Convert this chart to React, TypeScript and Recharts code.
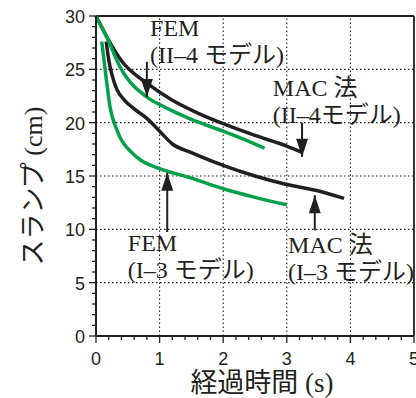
import React from 'react';
import { LineChart, Line, XAxis, YAxis, ReferenceLine, ReferenceDot, Label } from 'recharts';

// MAC 法 (II-4 モデル)
const macII4X = [0, 0.22, 0.4, 0.8, 1.2, 1.6, 2.0, 2.5, 3.0, 3.24];
const macII4Y = [30, 27.5, 25.8, 23.7, 22.1, 20.9, 19.9, 18.8, 17.8, 17.2];
// FEM (II-4 モデル)
const femII4X = [0, 0.17, 0.38, 0.8, 1.0, 1.2, 1.5, 2.0, 2.3, 2.65];
const femII4Y = [30, 28.0, 25.2, 22.4, 21.7, 21.1, 20.3, 19.2, 18.5, 17.6];
// MAC 法 (I-3 モデル)
const macI3X = [0.16, 0.2, 0.25, 0.33, 0.45, 0.6, 0.8, 1.0, 1.2, 1.5, 2.0, 2.5, 3.0, 3.5, 3.9];
const macI3Y = [27.6, 25.9, 24.5, 23.1, 22.1, 21.3, 20.4, 19.2, 18.0, 17.2, 16.0, 15.0, 14.2, 13.6, 12.9];
// FEM (I-3 モデル)
const femI3X = [0.09, 0.17, 0.22, 0.33, 0.58, 0.7, 1.0, 1.5, 2.0, 2.5, 3.0];
const femI3Y = [27.6, 23.7, 21.5, 19.3, 17.1, 16.5, 15.7, 14.8, 13.8, 13.0, 12.3];

const xTicks = [0, 0.2, 0.4, 0.6, 0.8, 1, 1.2, 1.4, 1.6, 1.8, 2, 2.2, 2.4, 2.6, 2.8, 3, 3.2, 3.4, 3.6, 3.8, 4, 4.2, 4.4, 4.6, 4.8, 5];
const yTicks = [0, 1, 2, 3, 4, 5, 6, 7, 8, 9, 10, 11, 12, 13, 14, 15, 16, 17, 18, 19, 20, 21, 22, 23, 24, 25, 26, 27, 28, 29, 30];
const xGrid = [1, 2, 3, 4];
const yGrid = [5, 10, 15, 20, 25];
const xMin = 0;
const xMax = 5;
const yMin = 0;
const yMax = 30;

// arrows: x, shaft start y, tip y
const arrowX = [0.8, 3.24, 1.12, 3.44];
const arrowFrom = [25.7, 20.0, 9.75, 9.9];
const arrowTip = [22.4, 16.8, 15.3, 13.2];

// annotation labels
const noteX = [0.85, 2.78, 0.5, 3.02];
const noteY = [28.1, 22.5, 7.97, 7.78];
const noteLine1 = ['FEM', 'MAC 法', 'FEM', 'MAC 法'];
const noteLine2 = ['(II–4 モデル)', '(II–4モデル)', '(I–3 モデル)', '(I–3 モデル)'];

const zip = (xs: number[], ys: number[]) => xs.map((x, i) => ({ x, y: ys[i] }));
const macII4 = zip(macII4X, macII4Y);
const femII4 = zip(femII4X, femII4Y);
const macI3 = zip(macI3X, macI3Y);
const femI3 = zip(femI3X, femI3Y);

const INK = '#231f20';
const GREEN = '#06a04a';
const SANS = "'Liberation Sans', Arial, sans-serif";
const SERIF = "'Liberation Serif', 'Noto Sans CJK JP', serif";

const isMajor = (v: number) => Math.abs(v - Math.round(v)) < 1e-6;

const XTick = (props: any) => {
  const { x, y, payload } = props;
  const v = payload.value;
  const major = isMajor(v);
  return (
    <g>
      <line x1={x} y1={y} x2={x} y2={y + (major ? 7 : 4)} stroke={INK} strokeWidth={1.3} />
      {major && (
        <text x={x} y={y + 29} textAnchor="middle" fontFamily={SANS} fontSize={18} fill={INK}>
          {v}
        </text>
      )}
    </g>
  );
};

const YTick = (props: any) => {
  const { x, y, payload } = props;
  const v = payload.value;
  const major = v % 5 === 0;
  return (
    <g>
      <line x1={x} y1={y} x2={x - (major ? 7 : 4)} y2={y} stroke={INK} strokeWidth={1.3} />
      {major && (
        <text x={x - 11} y={y} dy="0.38em" textAnchor="end" fontFamily={SANS} fontSize={18} fill={INK}>
          {v}
        </text>
      )}
    </g>
  );
};

const YLabel = (props: any) => {
  const vb = props.viewBox;
  const cx = vb.x + 33;
  const cy = vb.y + vb.height / 2 + 10;
  return (
    <text
      x={cx}
      y={cy}
      transform={`rotate(-90 ${cx} ${cy})`}
      textAnchor="middle"
      dominantBaseline="central"
      fontFamily={SERIF}
      fontSize={26}
      fill={INK}
    >
      スランプ (cm)
    </text>
  );
};

const XLabel = (props: any) => {
  const vb = props.viewBox;
  const cx = vb.x + vb.width / 2 + 7;
  const cy = vb.y + 56;
  return (
    <text x={cx} y={cy} textAnchor="middle" fontFamily={SERIF} fontSize={27} fill={INK}>
      経過時間 (s)
    </text>
  );
};

const makeHead = (up: boolean) => (p: any) => {
  const { cx, cy } = p;
  const len = 18;
  const hw = 6;
  const by = up ? cy + len : cy - len;
  return <path d={`M${cx},${cy} L${cx - hw},${by} L${cx + hw},${by} Z`} fill={INK} />;
};

const makeNote = (i: number) => (p: any) => {
  const { cx, cy } = p;
  return (
    <text x={cx} y={cy} fontFamily={SERIF} fontSize={24} fill={INK}>
      <tspan x={cx} y={cy}>{noteLine1[i]}</tspan>
      <tspan x={cx} y={cy + 27}>{noteLine2[i]}</tspan>
    </text>
  );
};

// Grid line shapes drawn by ReferenceLine through the chart's scales
const GridLineShape = (p: any) => {
  const { x1, y1, x2, y2 } = p;
  return <line x1={x1} y1={y1} x2={x2} y2={y2} stroke="#222" strokeWidth={1.1} strokeDasharray="1.5 2.5" />;
};
const FrameLineShape = (p: any) => {
  const { x1, y1, x2, y2 } = p;
  return <line x1={x1} y1={y1} x2={x2} y2={y2} stroke={INK} strokeWidth={1.8} />;
};

export default function App() {
  return (
    <div style={{ position: 'absolute', left: 0, top: 0, background: '#fff' }}>
      <LineChart width={416} height={398} margin={{ top: 16, right: 2, bottom: 0, left: 0 }}>
        <XAxis
          type="number"
          dataKey="x"
          domain={[xMin, xMax]}
          ticks={xTicks}
          interval={0}
          height={62}
          tickSize={0}
          tickMargin={0}
          tickLine={false}
          tick={<XTick />}
          axisLine={{ stroke: INK, strokeWidth: 2 }}
        >
          <Label content={<XLabel />} />
        </XAxis>
        <YAxis
          type="number"
          dataKey="y"
          domain={[yMin, yMax]}
          ticks={yTicks}
          interval={0}
          width={96}
          tickSize={0}
          tickMargin={0}
          tickLine={false}
          tick={<YTick />}
          axisLine={{ stroke: INK, strokeWidth: 2 }}
        >
          <Label content={<YLabel />} />
        </YAxis>

        {xGrid.map((g) => (
          <ReferenceLine key={'gx' + g} x={g} stroke="#222" strokeWidth={1.1} strokeDasharray="1.5 2.5" shape={GridLineShape} />
        ))}
        {yGrid.map((g) => (
          <ReferenceLine key={'gy' + g} y={g} stroke="#222" strokeWidth={1.1} strokeDasharray="1.5 2.5" shape={GridLineShape} />
        ))}
        <ReferenceLine y={yMax} stroke={INK} strokeWidth={1.8} shape={FrameLineShape} />
        <ReferenceLine x={xMax} stroke={INK} strokeWidth={1.8} shape={FrameLineShape} />

        <Line data={macII4} dataKey="y" type="monotone" stroke={INK} strokeWidth={3.5} dot={false} isAnimationActive={false} />
        <Line data={macI3} dataKey="y" type="monotone" stroke={INK} strokeWidth={3.5} dot={false} isAnimationActive={false} />
        <Line data={femII4} dataKey="y" type="monotone" stroke={GREEN} strokeWidth={3.5} dot={false} isAnimationActive={false} />
        <Line data={femI3} dataKey="y" type="monotone" stroke={GREEN} strokeWidth={3.5} dot={false} isAnimationActive={false} />

        {arrowX.map((ax, i) => (
          <ReferenceLine
            key={'as' + i}
            segment={[{ x: ax, y: arrowFrom[i] }, { x: ax, y: arrowTip[i] }]}
            stroke={INK}
            strokeWidth={2}
          />
        ))}
        {arrowX.map((ax, i) => (
          <ReferenceDot
            key={'ah' + i}
            x={ax}
            y={arrowTip[i]}
            r={6}
            shape={makeHead(arrowTip[i] > arrowFrom[i])}
          />
        ))}
        {noteX.map((nx, i) => (
          <ReferenceDot key={'n' + i} x={nx} y={noteY[i]} r={1} shape={makeNote(i)} />
        ))}
      </LineChart>
    </div>
  );
}
